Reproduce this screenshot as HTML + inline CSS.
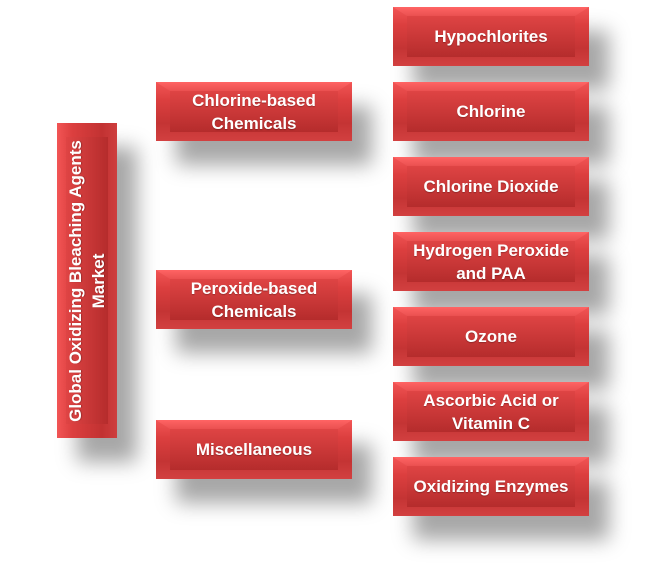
<!DOCTYPE html>
<html><head><style>
body{margin:0;width:649px;height:577px;background:#fff;position:relative;overflow:hidden;font-family:"Liberation Sans",sans-serif}
.b{position:absolute;width:196px;height:59px;background:linear-gradient(#f25555,#dc3f3f 30%,#c43434 70%,#d24040);box-shadow:20px 24px 20px rgba(0,0,0,0.35);}
.b:before{content:"";position:absolute;left:14px;right:14px;top:9px;bottom:9px;background:linear-gradient(#df4444,#b52c2c);}
.b:after{content:"";position:absolute;left:0;right:0;top:0;height:9px;background:linear-gradient(#ff6464,#ea5050);clip-path:polygon(0 0,100% 0,calc(100% - 14px) 100%,14px 100%)}
.t{position:absolute;left:0;right:0;top:0;bottom:0;display:flex;align-items:center;justify-content:center;text-align:center;color:#fff;font-weight:bold;font-size:17px;line-height:23px;z-index:2;text-shadow:0 1px 1px rgba(0,0,0,0.25)}
.v{position:absolute;left:57px;top:123px;width:60px;height:315px;background:linear-gradient(90deg,#f25555,#dc3f3f 25%,#c23232 75%,#ce3e3e);box-shadow:20px 24px 20px rgba(0,0,0,0.35)}
.v:before{content:"";position:absolute;left:9px;right:9px;top:14px;bottom:14px;background:linear-gradient(90deg,#df4444,#b52c2c)}
.v .t{left:50%;top:50%;right:auto;bottom:auto;width:315px;height:60px;transform:translate(-50%,-50%) rotate(-90deg);font-size:17px}
</style></head><body>
<div class="v"><div class="t">Global Oxidizing Bleaching Agents<br>Market</div></div>
<div class="b" style="left:156px;top:82px"><div class="t">Chlorine-based<br>Chemicals</div></div>
<div class="b" style="left:156px;top:270px"><div class="t">Peroxide-based<br>Chemicals</div></div>
<div class="b" style="left:156px;top:420px"><div class="t">Miscellaneous</div></div>
<div class="b" style="left:393px;top:7px"><div class="t">Hypochlorites</div></div>
<div class="b" style="left:393px;top:82px"><div class="t">Chlorine</div></div>
<div class="b" style="left:393px;top:157px"><div class="t">Chlorine Dioxide</div></div>
<div class="b" style="left:393px;top:232px"><div class="t">Hydrogen Peroxide<br>and PAA</div></div>
<div class="b" style="left:393px;top:307px"><div class="t">Ozone</div></div>
<div class="b" style="left:393px;top:382px"><div class="t">Ascorbic Acid or<br>Vitamin C</div></div>
<div class="b" style="left:393px;top:457px"><div class="t">Oxidizing Enzymes</div></div>
</body></html>
